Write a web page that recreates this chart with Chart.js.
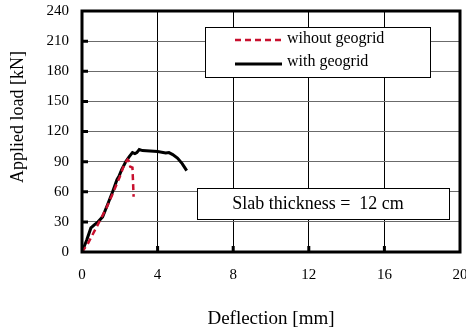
<!DOCTYPE html>
<html>
<head>
<meta charset="utf-8">
<script src="https://cdn.jsdelivr.net/npm/chart.js@4"></script>
<style>
  html, body { margin: 0; padding: 0; background: #fff; }
  #grafico { display: block; }
</style>
</head>
<body>
<canvas id="grafico" width="466" height="334"></canvas>
<script>
// deflection [mm] / load [kN] pairs
var semGeogridX = [0, 0.3, 0.83, 1.3, 1.71, 2.0, 2.23, 2.41, 2.5, 2.55, 2.67, 2.7, 2.73];
var semGeogridY = [0, 8, 27, 44, 62, 75, 87, 92, 90, 85, 84, 70, 55];
var comGeogridX = [0, 0.25, 0.47, 0.65, 0.85, 1.09, 1.35, 1.62, 1.85, 1.97, 2.1, 2.32, 2.5, 2.67, 2.8, 2.9, 3.03, 3.2, 3.6, 4.0, 4.43, 4.6, 4.8, 5.05, 5.3, 5.54];
var comGeogridY = [0, 12, 24, 27, 30, 35, 47, 60, 72, 76, 82, 90, 95, 99, 98, 99, 102, 101, 100.5, 100, 98.5, 99, 97, 93.5, 88, 81];
var rotulos = ['wihout geogrid', 'with geogrid'];
var espessura = 'Slab thickness =  12 cm';
var tituloY = 'Applied load [kN]';

function pares(xs, ys) {
	return xs.map(function (x, i) { return { x: x, y: ys[i] }; });
}

var serif = '"Liberation Serif", "Times New Roman", serif';

// frame, inner ticks, legend box, slab note and y title
var moldura = {
	id: 'moldura',
	afterDraw: function (chart) {
		var ctx = chart.ctx;
		var a = chart.chartArea;
		var sx = chart.scales.x, sy = chart.scales.y;
		ctx.save();
		ctx.strokeStyle = '#000';

		// inner tick marks
		ctx.lineWidth = 3;
		ctx.beginPath();
		for (var v = 30; v < 240; v += 30) {
			var py = sy.getPixelForValue(v);
			ctx.moveTo(a.left, py);
			ctx.lineTo(a.left + 6, py);
		}
		for (var u = 4; u < 20; u += 4) {
			var px = sx.getPixelForValue(u);
			ctx.moveTo(px, a.bottom);
			ctx.lineTo(px, a.bottom - 6);
		}
		ctx.stroke();

		// thick plot border
		ctx.lineWidth = 3;
		ctx.strokeRect(a.left, a.top, a.right - a.left, a.bottom - a.top);

		// legend
		ctx.lineWidth = 1;
		ctx.fillStyle = '#fff';
		ctx.fillRect(205.5, 27.5, 225, 50);
		ctx.strokeRect(205.5, 27.5, 225, 50);
		ctx.font = '16px ' + serif;
		ctx.textBaseline = 'middle';
		ctx.textAlign = 'left';

		ctx.strokeStyle = '#c8102e';
		ctx.lineWidth = 2.5;
		ctx.setLineDash([6, 4]);
		ctx.beginPath();
		ctx.moveTo(235, 40);
		ctx.lineTo(282, 40);
		ctx.stroke();
		ctx.setLineDash([]);

		ctx.strokeStyle = '#000';
		ctx.lineWidth = 3;
		ctx.beginPath();
		ctx.moveTo(235, 64);
		ctx.lineTo(282, 64);
		ctx.stroke();

		ctx.fillStyle = '#000';
		ctx.fillText(rotulos[0], 287, 39);
		ctx.fillText(rotulos[1], 287, 62);

		// slab thickness note
		ctx.lineWidth = 1;
		ctx.fillStyle = '#fff';
		ctx.fillRect(197.5, 188.5, 252, 31);
		ctx.strokeRect(197.5, 188.5, 252, 31);
		ctx.fillStyle = '#000';
		ctx.font = '18px ' + serif;
		ctx.textAlign = 'center';
		ctx.fillText(espessura, 318, 204);

		// y axis title
		ctx.translate(18, 117);
		ctx.rotate(-Math.PI / 2);
		ctx.font = '18px ' + serif;
		ctx.fillText(tituloY, 0, 0);

		ctx.restore();
	}
};

var canvas = document.getElementById('grafico');

var grafico = new Chart(canvas, {
	type: 'scatter',
	data: {
		datasets: [{
			label: rotulos[0],
			data: pares(semGeogridX, semGeogridY),
			showLine: true,
			borderColor: '#c8102e',
			borderWidth: 2.5,
			borderDash: [6, 4],
			pointRadius: 0,
			tension: 0
		}, {
			label: rotulos[1],
			data: pares(comGeogridX, comGeogridY),
			showLine: true,
			borderColor: '#000',
			borderWidth: 3,
			pointRadius: 0,
			tension: 0
		}]
	},
	options: {
		responsive: false,
		animation: false,
		layout: {
			padding: { top: 11, right: 6, left: 0, bottom: 0 }
		},
		plugins: {
			legend: { display: false },
			tooltip: { enabled: false }
		},
		scales: {
			x: {
				type: 'linear',
				min: 0,
				max: 20,
				afterFit: function (s) {
					s.height = 82;
					s.paddingLeft = 0;
					s.paddingRight = 0;
				},
				ticks: {
					stepSize: 4,
					padding: 14,
					color: '#000',
					font: { family: serif, size: 15 }
				},
				grid: { color: '#000', lineWidth: 1, drawTicks: false },
				border: { display: false },
				title: {
					display: true,
					text: 'Deflection [mm]',
					color: '#000',
					font: { family: serif, size: 19 },
					padding: { top: 20 }
				}
			},
			y: {
				min: 0,
				max: 240,
				afterFit: function (s) {
					s.width = 82;
					s.paddingTop = 0;
					s.paddingBottom = 0;
				},
				ticks: {
					stepSize: 30,
					padding: 13,
					color: '#000',
					font: { family: serif, size: 15 }
				},
				grid: { color: '#6b6b6b', lineWidth: 1, drawTicks: false },
				border: { display: false },
				title: { display: false }
			}
		}
	},
	plugins: [moldura]
});
</script>
</body>
</html>
